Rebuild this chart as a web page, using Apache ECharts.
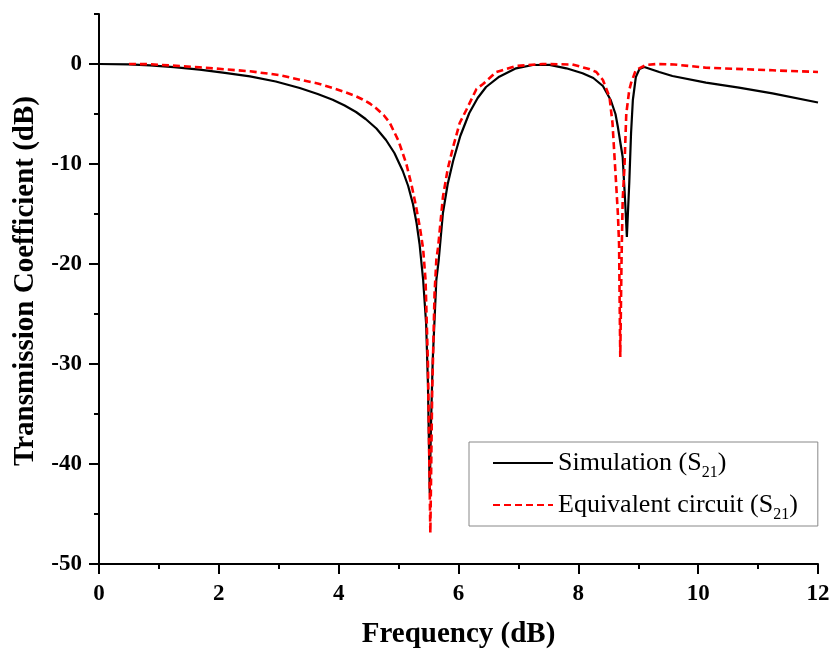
<!DOCTYPE html>
<html>
<head>
<meta charset="utf-8">
<script src="https://cdn.jsdelivr.net/npm/echarts@6/dist/echarts.min.js"></script>
<style>html,body{margin:0;padding:0;background:#fff}#c{width:833px;height:655px}</style>
</head>
<body>
<div id="c"></div>
<script>
// Simulation (S21) — black solid
var simFreq = [0, 0.5, 0.85, 1.25, 1.68, 2.1, 2.52, 2.95, 3.35, 3.65, 3.9, 4.1, 4.29, 4.45, 4.63, 4.79, 4.93, 5.07, 5.16, 5.24, 5.3, 5.35, 5.41, 5.46, 5.49, 5.52, 5.54, 5.57, 5.63, 5.67, 5.74, 5.82, 5.91, 6.03, 6.18, 6.32, 6.46, 6.68, 6.96, 7.24, 7.52, 7.8, 8.07, 8.25, 8.41, 8.54, 8.62, 8.66, 8.74, 8.78, 8.81, 8.85, 8.88, 8.91, 8.96, 9.02, 9.1, 9.35, 9.57, 10.13, 10.68, 11.24, 12];
var simDb = [0, -0.03, -0.13, -0.32, -0.57, -0.88, -1.23, -1.75, -2.4, -3.0, -3.57, -4.15, -4.8, -5.5, -6.45, -7.6, -8.9, -10.7, -12.2, -14.0, -15.9, -18.0, -21.6, -26.0, -32.0, -42.9, -36.3, -29.6, -21.6, -19.6, -14.9, -12.0, -9.7, -7.2, -4.9, -3.4, -2.3, -1.27, -0.43, -0.1, -0.08, -0.43, -0.93, -1.4, -2.2, -3.6, -5.0, -6.3, -9.3, -13.6, -17.3, -11.9, -6.9, -3.6, -1.3, -0.5, -0.3, -0.8, -1.2, -1.87, -2.37, -2.93, -3.85];
// Equivalent circuit (S21) — red dashed
var eqFreq = [0.5, 0.85, 1.68, 2.52, 3.0, 3.35, 3.65, 3.9, 4.1, 4.29, 4.4, 4.52, 4.63, 4.75, 4.85, 5.0, 5.13, 5.22, 5.29, 5.36, 5.41, 5.45, 5.49, 5.53, 5.56, 5.6, 5.63, 5.66, 5.74, 5.82, 5.91, 6.02, 6.13, 6.3, 6.41, 6.63, 6.96, 7.4, 7.9, 8.18, 8.3, 8.41, 8.52, 8.57, 8.63, 8.66, 8.68, 8.69, 8.7, 8.72, 8.74, 8.77, 8.8, 8.85, 8.88, 8.96, 9.13, 9.3, 9.6, 10.13, 11.24, 12];
var eqDb = [0, -0.02, -0.33, -0.73, -1.1, -1.57, -1.95, -2.4, -2.8, -3.23, -3.55, -3.95, -4.45, -5.1, -5.85, -7.7, -10.0, -12.2, -14.2, -16.5, -18.5, -21.6, -30.0, -46.9, -33.0, -23.0, -19.6, -18.3, -13.3, -10.5, -8.3, -5.9, -4.6, -2.5, -2.0, -0.8, -0.2, 0, -0.05, -0.5, -0.8, -1.6, -3.3, -5.9, -11.9, -15.0, -18.0, -24.0, -29.3, -20.0, -13.6, -10.3, -5.0, -2.6, -1.9, -0.6, -0.1, 0, -0.05, -0.37, -0.63, -0.8];

var xTicks = [0, 2, 4, 6, 8, 10, 12];
var yTicks = [-50, -40, -30, -20, -10, 0];
var seriesNames = ['Simulation (S21)', 'Equivalent circuit (S21)'];

function zip(a, b) { return a.map(function (v, i) { return [v, b[i]]; }); }

var FONT = "'Liberation Serif', 'Times New Roman', serif";
var chart = echarts.init(document.getElementById('c'), null, { renderer: 'canvas' });
chart.setOption({
  animation: false,
  backgroundColor: '#fff',
  grid: { left: 99, right: 15, top: 14, bottom: 91, containLabel: false },
  xAxis: [{
    type: 'value', min: 0, max: 12, interval: 2,
    name: 'Frequency (dB)', nameLocation: 'middle', nameGap: 56,
    nameTextStyle: { fontFamily: FONT, fontWeight: 'bold', fontSize: 29, color: '#000' },
    axisLine: { onZero: false, lineStyle: { color: '#000', width: 2 } },
    axisTick: { show: true, inside: false, length: 10, lineStyle: { color: '#000', width: 2 } },
    minorTick: { show: true, splitNumber: 2, length: 5, lineStyle: { color: '#000', width: 2 } },
    axisLabel: { fontFamily: FONT, fontWeight: 'bold', fontSize: 23, color: '#000', margin: 19,
      customValues: xTicks },
    splitLine: { show: false }, minorSplitLine: { show: false }
  }],
  yAxis: [{
    type: 'value', min: -50, max: 5, interval: 10,
    name: 'Transmission Coefficient (dB)', nameLocation: 'middle', nameGap: 57,
    nameTextStyle: { fontFamily: FONT, fontWeight: 'bold', fontSize: 29, color: '#000', padding: [0, 0, 0, 16] },
    axisLine: { onZero: false, lineStyle: { color: '#000', width: 2 } },
    axisTick: { show: true, inside: false, length: 10, customValues: yTicks, lineStyle: { color: '#000', width: 2 } },
    axisLabel: { fontFamily: FONT, fontWeight: 'bold', fontSize: 23, color: '#000', margin: 17,
      customValues: yTicks },
    splitLine: { show: false }
  }, {
    type: 'value', min: -50, max: 5, interval: 5, position: 'left', offset: 0,
    axisLine: { show: false },
    axisTick: { show: true, inside: false, length: 5, lineStyle: { color: '#000', width: 2 } },
    axisLabel: { show: false },
    splitLine: { show: false }
  }],
  legend: {
    left: 469, top: 442, orient: 'vertical', align: 'left',
    padding: [3, 20, 3, 23], itemGap: 6, itemWidth: 60, itemHeight: 14,
    backgroundColor: '#fff', borderColor: '#888', borderWidth: 1, borderRadius: 0,
    data: seriesNames,
    itemStyle: { opacity: 0, borderWidth: 0 },
    formatter: function (n) { return n.replace('(S21)', '(S{s|21})'); },
    textStyle: {
      fontFamily: FONT, fontSize: 26, color: '#000', lineHeight: 36,
      rich: { s: { fontFamily: FONT, fontSize: 16, color: '#000', lineHeight: 12, verticalAlign: 'bottom' } }
    }
  },
  series: [{
    name: seriesNames[0], type: 'line', data: zip(simFreq, simDb),
    symbol: 'none', smooth: false, z: 2,
    lineStyle: { color: '#000', width: 2.2 }, itemStyle: { color: '#000' }
  }, {
    name: seriesNames[1], type: 'line', data: zip(eqFreq, eqDb),
    symbol: 'none', smooth: false, z: 3,
    lineStyle: { color: '#ff0000', width: 2.6, type: [7, 4] }, itemStyle: { color: '#ff0000' }
  }]
});
</script>
</body>
</html>
